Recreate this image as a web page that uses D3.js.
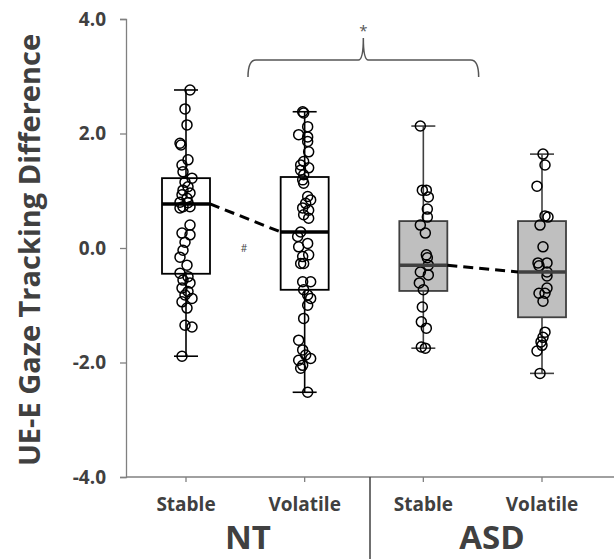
<!DOCTYPE html>
<html>
<head>
<meta charset="utf-8">
<script src="https://cdn.jsdelivr.net/npm/d3@7"></script>
<style>
  body { margin: 0; background: #fff; }
</style>
</head>
<body>
<div id="chart"></div>
<script>
// data
const groups = [`NT`, `ASD`];
const conditions = [`NT-Stable`, `NT-Volatile`, `ASD-Stable`, `ASD-Volatile`];
const condLabels = [`Stable`, `Volatile`, `Stable`, `Volatile`];
const condGroup = [`NT`, `NT`, `ASD`, `ASD`];
const whiskerLow = [-1.89, -2.52, -1.75, -2.19];
const q1 = [-0.45, -0.73, -0.75, -1.21];
const medians = [0.77, 0.28, -0.30, -0.42];
const q3 = [1.22, 1.24, 0.47, 0.47];
const whiskerHigh = [2.76, 2.38, 2.13, 1.64];
const yTicks = [-4, -2, 0, 2, 4];

// [value, jitter] per subject
const ntStable = [[2.76,0.4],[2.43,-0.1],[2.15,0.1],[1.83,-0.6],[1.80,-0.5],[1.54,0.2],[1.45,-0.4],[1.33,-0.3],[1.22,0.6],[1.15,-0.1],[1.07,0.2],[1.01,-0.3],[0.96,0.4],[0.93,-0.4],[0.87,0.1],[0.80,-0.6],[0.79,0.2],[0.72,-0.3],[0.72,0.4],[0.70,-0.6],[0.40,0.4],[0.26,-0.4],[0.23,0.4],[0.10,-0.1],[-0.04,-0.3],[-0.16,-0.6],[-0.30,0.1],[-0.44,-0.6],[-0.50,0.2],[-0.56,-0.3],[-0.61,0.4],[-0.70,-0.4],[-0.76,0.2],[-0.82,-0.1],[-0.88,0.6],[-0.94,-0.4],[-1.05,0.1],[-1.35,-0.1],[-1.38,0.6],[-1.89,-0.4]];
const ntVolatile = [[2.38,-0.2],[2.36,-0.1],[2.12,0.3],[1.98,-0.6],[1.94,0.3],[1.86,0.3],[1.68,0.4],[1.51,-0.1],[1.45,-0.4],[1.40,0.4],[1.36,-0.4],[1.28,-0.1],[1.19,-0.2],[1.13,-0.1],[0.90,0.3],[0.84,0.6],[0.78,0.1],[0.70,-0.2],[0.66,0.4],[0.58,-0.1],[0.52,0.4],[0.28,-0.4],[0.20,-0.7],[0.08,0.3],[0.02,-0.6],[-0.12,0.4],[-0.15,-0.2],[-0.27,-0.4],[-0.27,-0.1],[-0.59,-0.2],[-0.59,0.6],[-0.73,-0.1],[-0.82,0.3],[-0.88,0.6],[-1.00,0.3],[-1.23,-0.1],[-1.61,-0.6],[-1.78,-0.2],[-1.87,0.1],[-1.93,0.6],[-1.96,-0.6],[-2.05,-0.2],[-2.10,-0.4],[-2.52,0.3]];
const asdStable = [[2.13,-0.3],[1.01,-0.1],[1.01,0.3],[0.89,0.5],[0.68,0.4],[0.54,0.4],[0.40,-0.3],[0.26,0.2],[-0.12,0.3],[-0.17,0.4],[-0.30,0.5],[-0.42,-0.3],[-0.47,0.5],[-0.61,-0.4],[-0.73,0.0],[-1.03,-0.1],[-1.29,-0.2],[-1.40,0.3],[-1.75,0.2],[-1.73,-0.2]];
const asdVolatile = [[1.64,0.1],[1.45,0.3],[1.08,-0.5],[0.56,0.3],[0.54,0.6],[0.40,-0.2],[0.02,0.1],[-0.26,-0.4],[-0.26,0.5],[-0.31,-0.3],[-0.42,0.5],[-0.49,0.5],[-0.70,0.5],[-0.79,-0.3],[-0.79,0.3],[-0.93,0.1],[-1.47,0.3],[-1.56,0.1],[-1.64,-0.1],[-1.70,0.0],[-1.80,-0.5],[-2.19,-0.2]];
const points = [ntStable, ntVolatile, asdStable, asdVolatile];

// layout
const width = 614;
const height = 559;
const axisX = 126;
const axisY = 477;
const sepX = 370;
const boxWidth = 48;
const capWidth = 24;
const fontFamily = `'Open Sans', 'DejaVu Sans', sans-serif`;
const textColor = `#404040`;
const axisColor = `#808080`;
const boxFill = {NT: `#ffffff`, ASD: `#bfbfbf`};
const boxStroke = {NT: `#000000`, ASD: `#404040`};

const yScale = d3.scaleLinear().domain([-4, 4]).range([axisY, 19]);
const xScale = d3.scalePoint().domain(conditions).range([186, 542]);
const jitter = d3.scaleLinear().domain([-1, 1]).range([-10, 10]);
const groupX = d3.scaleOrdinal().domain(groups).range([(axisX + sepX) / 2, (sepX + width) / 2]);

const svg = d3.select(`#chart`).append(`svg`)
    .attr(`width`, width)
    .attr(`height`, height);

// y axis
const yAxis = svg.append(`g`)
    .attr(`transform`, `translate(${axisX},0)`)
    .call(d3.axisLeft(yScale)
        .tickValues(yTicks)
        .tickFormat(d => d3.format(`.1f`)(d).replace(`\u2212`, `-`))
        .tickSize(6)
        .tickPadding(14));
yAxis.select(`.domain`).attr(`stroke`, axisColor).attr(`stroke-width`, 1.3);
yAxis.selectAll(`.tick line`).attr(`stroke`, axisColor).attr(`stroke-width`, 1.3);
yAxis.selectAll(`.tick text`)
    .style(`font`, `bold 19px ${fontFamily}`)
    .attr(`fill`, textColor);

svg.append(`text`)
    .attr(`transform`, `translate(40,250) rotate(-90)`)
    .attr(`text-anchor`, `middle`)
    .style(`font`, `bold 29px ${fontFamily}`)
    .attr(`fill`, textColor)
    .text(`UE-E Gaze Tracking Difference`);

// x axis
const xAxis = svg.append(`g`)
    .attr(`transform`, `translate(0,${axisY})`);
xAxis.append(`line`)
    .attr(`x1`, axisX).attr(`x2`, width)
    .attr(`stroke`, axisColor).attr(`stroke-width`, 1.3);
xAxis.selectAll(`.xtick`)
    .data(conditions)
    .enter()
    .append(`line`)
    .attr(`class`, `xtick`)
    .attr(`x1`, d => xScale(d)).attr(`x2`, d => xScale(d))
    .attr(`y1`, 0).attr(`y2`, 5)
    .attr(`stroke`, axisColor).attr(`stroke-width`, 1.3);
xAxis.selectAll(`.xlabel`)
    .data(conditions)
    .enter()
    .append(`text`)
    .attr(`class`, `xlabel`)
    .attr(`x`, d => xScale(d))
    .attr(`y`, 34)
    .attr(`text-anchor`, `middle`)
    .style(`font`, `bold 19px ${fontFamily}`)
    .attr(`fill`, textColor)
    .text((d, i) => condLabels[i]);
xAxis.append(`line`)
    .attr(`x1`, sepX).attr(`x2`, sepX)
    .attr(`y1`, 0).attr(`y2`, height - axisY)
    .attr(`stroke`, `#404040`).attr(`stroke-width`, 1.5);
xAxis.selectAll(`.glabel`)
    .data(groups)
    .enter()
    .append(`text`)
    .attr(`class`, `glabel`)
    .attr(`x`, d => groupX(d))
    .attr(`y`, 72)
    .attr(`text-anchor`, `middle`)
    .style(`font`, `bold 33px ${fontFamily}`)
    .attr(`fill`, textColor)
    .text(d => d);

// boxes
const boxes = svg.selectAll(`.box`)
    .data(conditions)
    .enter()
    .append(`g`)
    .attr(`class`, `box`);

boxes.append(`line`)
    .attr(`x1`, d => xScale(d)).attr(`x2`, d => xScale(d))
    .attr(`y1`, (d, i) => yScale(whiskerHigh[i]))
    .attr(`y2`, (d, i) => yScale(whiskerLow[i]))
    .attr(`stroke`, (d, i) => boxStroke[condGroup[i]])
    .attr(`stroke-width`, 1.6);
boxes.selectAll(`.cap`)
    .data((d, i) => [whiskerHigh[i], whiskerLow[i]].map(v => ({c: d, v: v, g: condGroup[i]})))
    .enter()
    .append(`line`)
    .attr(`class`, `cap`)
    .attr(`x1`, d => xScale(d.c) - capWidth / 2)
    .attr(`x2`, d => xScale(d.c) + capWidth / 2)
    .attr(`y1`, d => yScale(d.v)).attr(`y2`, d => yScale(d.v))
    .attr(`stroke`, d => boxStroke[d.g])
    .attr(`stroke-width`, 1.6);
boxes.append(`rect`)
    .attr(`x`, d => xScale(d) - boxWidth / 2)
    .attr(`width`, boxWidth)
    .attr(`y`, (d, i) => yScale(q3[i]))
    .attr(`height`, (d, i) => yScale(q1[i]) - yScale(q3[i]))
    .attr(`fill`, (d, i) => boxFill[condGroup[i]])
    .attr(`stroke`, (d, i) => boxStroke[condGroup[i]])
    .attr(`stroke-width`, 1.8);

// median connections
svg.selectAll(`.medianLink`)
    .data([0, 2])
    .enter()
    .append(`line`)
    .attr(`class`, `medianLink`)
    .attr(`x1`, i => xScale(conditions[i]) + boxWidth / 2)
    .attr(`y1`, i => yScale(medians[i]))
    .attr(`x2`, i => xScale(conditions[i + 1]) - boxWidth / 2)
    .attr(`y2`, i => yScale(medians[i + 1]))
    .attr(`stroke`, `#000`)
    .attr(`stroke-width`, 3)
    .style(`stroke-dasharray`, `10,6`);

// points
boxes.selectAll(`.pt`)
    .data((d, i) => points[i].map(p => ({c: d, v: p[0], j: p[1]})))
    .enter()
    .append(`circle`)
    .attr(`class`, `pt`)
    .attr(`cx`, d => xScale(d.c) + jitter(d.j))
    .attr(`cy`, d => yScale(d.v))
    .attr(`r`, 5)
    .attr(`fill`, `none`)
    .attr(`stroke`, `#000`)
    .attr(`stroke-width`, 1.5);

// medians on top
boxes.append(`line`)
    .attr(`x1`, d => xScale(d) - boxWidth / 2)
    .attr(`x2`, d => xScale(d) + boxWidth / 2)
    .attr(`y1`, (d, i) => yScale(medians[i]))
    .attr(`y2`, (d, i) => yScale(medians[i]))
    .attr(`stroke`, (d, i) => condGroup[i] === `NT` ? `#000` : `#404040`)
    .attr(`stroke-width`, 3.5);

// significance marks
const braceY = 60;
const braceL = groupX(`NT`);
const braceR = xScale(conditions[2]) + (xScale(conditions[3]) - xScale(conditions[2])) / 2 - 4;
const braceM = (braceL + braceR) / 2;
svg.append(`path`)
    .attr(`d`, `M${braceL},${braceY + 17} Q${braceL},${braceY} ${braceL + 8},${braceY}`
        + ` L${braceM - 5},${braceY} Q${braceM},${braceY} ${braceM},${braceY - 22}`
        + ` Q${braceM},${braceY} ${braceM + 5},${braceY}`
        + ` L${braceR - 8},${braceY} Q${braceR},${braceY} ${braceR},${braceY + 17}`)
    .attr(`fill`, `none`)
    .attr(`stroke`, `#555`)
    .attr(`stroke-width`, 1.5);
svg.append(`text`)
    .attr(`x`, braceM)
    .attr(`y`, braceY - 24)
    .attr(`text-anchor`, `middle`)
    .style(`font`, `15px ${fontFamily}`)
    .attr(`fill`, `#555`)
    .text(`*`);
svg.append(`text`)
    .attr(`x`, groupX(`NT`) - 4)
    .attr(`y`, yScale(0) + 4)
    .attr(`text-anchor`, `middle`)
    .style(`font`, `10px ${fontFamily}`)
    .attr(`fill`, `#444`)
    .text(`#`);
</script>
</body>
</html>
